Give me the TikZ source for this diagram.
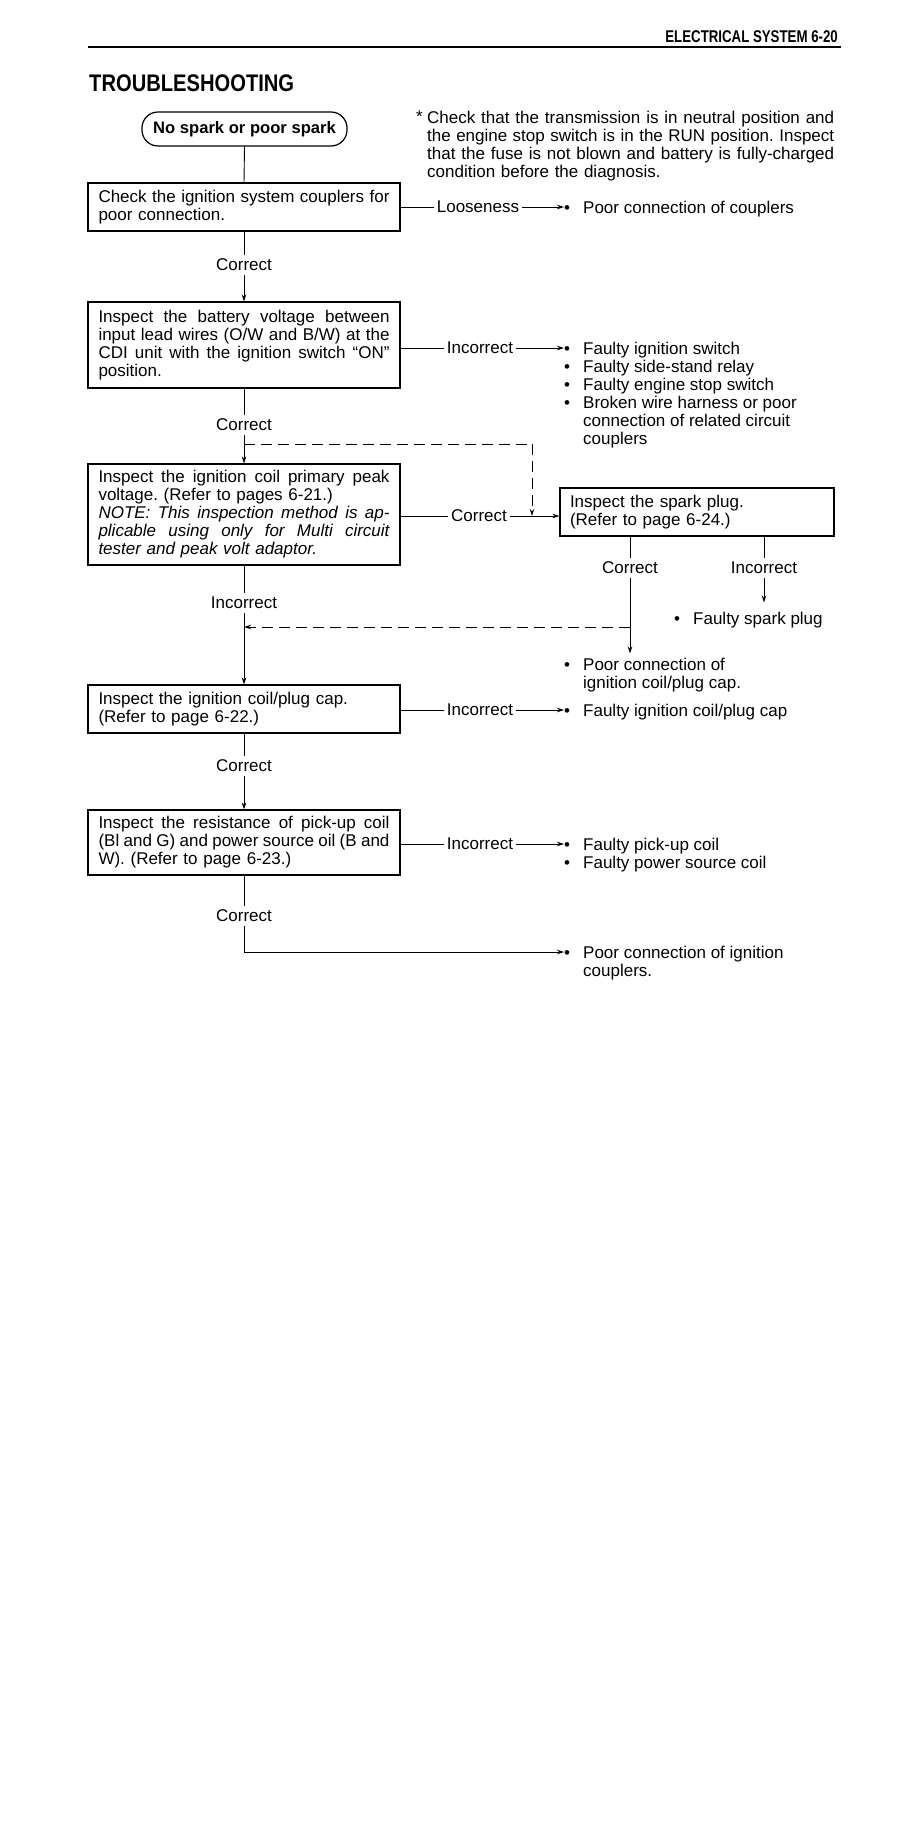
\documentclass[tikz,border=0pt]{standalone}
\usepackage{fontspec}
\setmainfont{Liberation Sans}
\usetikzlibrary{arrows.meta}
\newlength\jw \setlength\jw{291pt}
\newcommand\jst{\spaceskip=0.278em plus 0.6em minus 0.12em\relax}
\newcommand\jline[1]{\makebox[\jw][s]{\jst #1}}
\newcommand\nline[1]{\makebox[407pt][s]{\jst #1}}
\newcommand\bul{\makebox[19pt][l]{\textbullet}}
\newcommand\ind{\hspace*{19pt}}
\begin{document}
\frenchspacing
\begin{tikzpicture}[x=1pt,y=-1pt,
 every node/.style={inner sep=0pt, font=\fontsize{17}{18}\selectfont\frenchspacing},
 box/.style={draw, line width=1.2pt, minimum width=312pt, inner xsep=10.5pt, inner ysep=0pt, text width=291pt, align=left},
 lab/.style={inner xsep=3pt, inner ysep=4pt},
 res/.style={anchor=north west, align=left},
 conn/.style={line width=0.9pt},
 arr/.style={conn, -{Stealth[length=7pt,width=4.5pt]}},
 dsh/.style={dash pattern=on 11pt off 6pt}]
\fill[white] (0,0) rectangle (917,1836);
\useasboundingbox (0,0) rectangle (917,1836);

% header
\draw[line width=2.5pt] (88,47) coordinate (hl) -- (841,47) coordinate (hr);
\node[anchor=base east] (hdr) at (838,43) {\scalebox{0.78}[1]{\fontsize{17}{17}\selectfont\bfseries ELECTRICAL SYSTEM 6-20}};
\node[anchor=base west] (ttl) at (89,91) {\scalebox{0.84}[1]{\fontsize{24}{24}\selectfont\bfseries TROUBLESHOOTING}};

% start
\node[draw, line width=1.2pt, rounded corners=16pt, minimum width=205pt, minimum height=34pt, font=\fontsize{16.6}{18}\selectfont\bfseries] (st) at (244.5,129) {No spark or poor spark};

% note
\node[anchor=north west] (ast) at (416,110.5) {*};
\node[anchor=north west, align=left, text width=407pt] (note) at (427,110.5) {%
\nline{Check that the transmission is in neutral position and}\\
\nline{the engine stop switch is in the RUN position. Inspect}\\
\nline{that the fuse is not blown and battery is fully-charged}\\
condition before the diagnosis.};

% boxes
\node[box, minimum height=48pt] (b1) at (244,207) {%
\jline{Check the ignition system couplers for}\\
poor connection.};
\node[box, minimum height=86pt] (b2) at (244,345) {%
\jline{Inspect the battery voltage between}\\
\jline{input lead wires (O/W and B/W) at the}\\
\jline{CDI unit with the ignition switch “ON”}\\
position.};
\node[box, minimum height=101pt] (b3) at (244,514.5) {%
\jline{Inspect the ignition coil primary peak}\\
voltage. (Refer to pages 6-21.)\\
\jline{\itshape NOTE: This inspection method is ap-}\\
\jline{\itshape plicable using only for Multi circuit}\\
{\itshape tester and peak volt adaptor.}};
\node[box, minimum height=48pt] (b4) at (244,709) {%
Inspect the ignition coil/plug cap.\\
(Refer to page 6-22.)};
\node[box, minimum height=65pt] (b5) at (244,842.5) {%
\jline{Inspect the resistance of pick-up coil}\\
\jline{(Bl and G) and power source oil (B and}\\
W). (Refer to page 6-23.)};
\node[box, minimum width=274pt, inner xsep=10pt, text width=254pt, minimum height=48pt] (sp) at (697,512) {%
Inspect the spark plug.\\
(Refer to page 6-24.)};

% labels below boxes
\node[lab] (c1) at (244,265) {Correct};
\node[lab] (c2) at (244,425) {Correct};
\node[lab] (c3) at (244,603) {Incorrect};
\node[lab] (c4) at (244,766) {Correct};
\node[lab] (c5) at (244,916) {Correct};
\node[lab] (sc) at (630,568) {Correct};
\node[lab] (si) at (764,568) {Incorrect};

% side labels
\node[lab] (lL) at (478,207) {Looseness};
\node[lab] (l2) at (480,348) {Incorrect};
\node[lab] (l3) at (479,516) {Correct};
\node[lab] (l4) at (480,710) {Incorrect};
\node[lab] (l5) at (480,844) {Incorrect};

% results
\node[res] (r1) at (564,200.5) {\bul Poor connection of couplers};
\node[res] (r2) at (564,341.5) {\bul Faulty ignition switch\\
\bul Faulty side-stand relay\\
\bul Faulty engine stop switch\\
\bul Broken wire harness or poor\\
\ind connection of related circuit\\
\ind couplers};
\node[res] (rsp) at (674,611.5) {\bul Faulty spark plug};
\node[res] (rpc) at (564,657.5) {\bul Poor connection of\\
\ind ignition coil/plug cap.};
\node[res] (r4) at (564,703.5) {\bul Faulty ignition coil/plug cap};
\node[res] (r5) at (564,837.5) {\bul Faulty pick-up coil\\
\bul Faulty power source coil};
\node[res] (r6) at (564,945.5) {\bul Poor connection of ignition\\
\ind couplers.};

% junctions
\coordinate (j1) at (244,444);
\coordinate (k1) at (532,444);
\coordinate (j2) at (244,627);
\coordinate (jc) at (630,627);
\coordinate (j5) at (244,952);

% main vertical connectors
\draw[conn] (st.south) -- (b1.north);
\draw[conn] (b1.south) -- (c1.north);
\draw[arr] (c1.south) -- (b2.north);
\draw[conn] (b2.south) -- (c2.north);
\draw[conn] (c2.south) -- (j1);
\draw[arr] (j1) -- (b3.north);
\draw[conn, dsh] (j1) -- (k1);
\draw[arr, dsh] (k1) -- (k1 |- l3.east);
\draw[conn] (b3.south) -- (c3.north);
\draw[conn] (c3.south) -- (j2);
\draw[arr] (j2) -- (b4.north);
\draw[conn] (b4.south) -- (c4.north);
\draw[arr] (c4.south) -- (b5.north);
\draw[conn] (b5.south) -- (c5.north);
\draw[conn] (c5.south) -- (j5);
\draw[arr] (j5) -- (j5 -| r6.west);

% side connectors
\draw[conn] (lL -| b1.east) -- (lL.west);
\draw[arr] (lL.east) -- (lL.east -| r1.west);
\draw[conn] (l2 -| b2.east) -- (l2.west);
\draw[arr] (l2.east) -- (l2.east -| r2.west);
\draw[conn] (l3 -| b3.east) -- (l3.west);
\draw[arr] (l3.east) -- (l3.east -| sp.west);
\draw[conn] (l4 -| b4.east) -- (l4.west);
\draw[arr] (l4.east) -- (l4.east -| r4.west);
\draw[conn] (l5 -| b5.east) -- (l5.west);
\draw[arr] (l5.east) -- (l5.east -| r5.west);

% spark plug branches
\draw[conn] (sc |- sp.south) -- (sc.north);
\draw[conn] (si |- sp.south) -- (si.north);
\draw[arr, shorten >=9pt] (si.south) -- (si |- rsp.north);
\draw[conn] (sc.south) -- (jc);
\draw[arr, shorten >=4pt] (jc) -- (jc |- rpc.north);
\draw[arr, dsh] (jc) -- (j2);
\end{tikzpicture}
\end{document}
